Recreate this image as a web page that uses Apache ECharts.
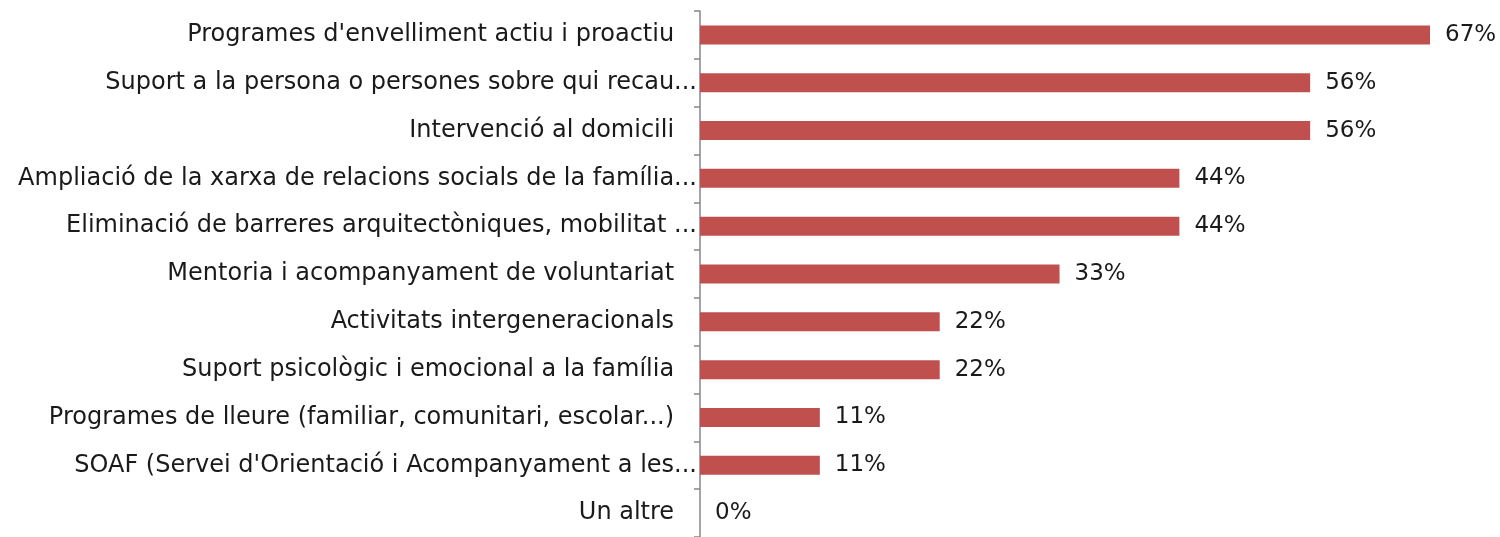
<!DOCTYPE html>
<html>
<head>
<meta charset="utf-8">
<script src="https://cdn.jsdelivr.net/npm/echarts@6/dist/echarts.min.js"></script>
<style>
  html, body { margin: 0; padding: 0; background: #fff; }
  #main { width: 1500px; height: 537px; }
</style>
</head>
<body>
<div id="main"></div>
<script>
// categories, top to bottom
var categories = [
    "Programes d'envelliment actiu i proactiu   ",
    'Suport a la persona o persones sobre qui recau...',
    'Intervenció al domicili   ',
    'Ampliació de la xarxa de relacions socials de la família...',
    'Eliminació de barreres arquitectòniques, mobilitat ...',
    'Mentoria i acompanyament de voluntariat   ',
    'Activitats intergeneracionals   ',
    'Suport psicològic i emocional a la família   ',
    'Programes de lleure (familiar, comunitari, escolar...)   ',
    "SOAF (Servei d'Orientació i Acompanyament a les...",
    'Un altre   '
];
// percentages
var values = [67, 56, 56, 44, 44, 33, 22, 22, 11, 11, 0];

var chart = echarts.init(document.getElementById('main'));

var option = {
    animation: false,
    textStyle: { fontFamily: 'DejaVu Sans' },
    grid: {
        left: 700,
        top: 11,
        width: 730,
        height: 530
    },
    xAxis: {
        type: 'value',
        min: 0,
        max: 67,
        show: false
    },
    yAxis: {
        type: 'category',
        inverse: true,
        data: categories,
        axisLine: { lineStyle: { color: '#868686', width: 1.5 } },
        axisTick: {
            show: true,
            length: 6,
            lineStyle: { color: '#868686', width: 1.5 }
        },
        axisLabel: {
            margin: 3,
            fontSize: 24,
            color: '#1a1a1a',
            fontFamily: 'DejaVu Sans'
        }
    },
    series: [
        {
            type: 'bar',
            data: values,
            barWidth: 19,
            itemStyle: { color: '#c0504d' },
            label: {
                show: true,
                position: 'right',
                distance: 15,
                fontSize: 23,
                color: '#1a1a1a',
                fontFamily: 'DejaVu Sans',
                formatter: '{c}%'
            }
        }
    ]
};

chart.setOption(option);
</script>
</body>
</html>
